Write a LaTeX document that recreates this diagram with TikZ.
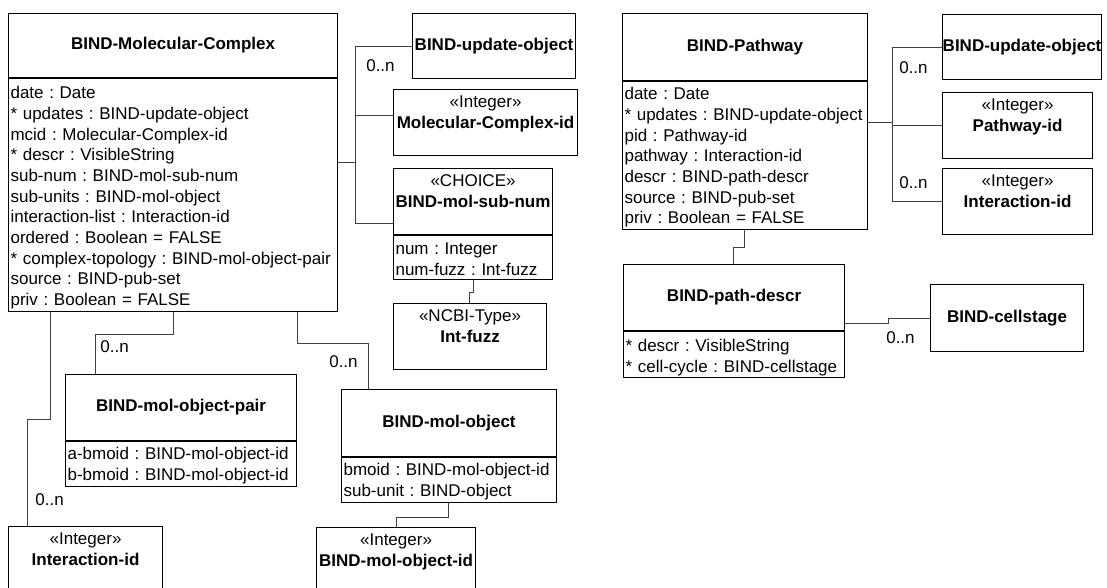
\documentclass[tikz,border=0pt]{standalone}
\usepackage{fontspec}
\setmainfont{Liberation Sans}
\usepackage{xcolor}
\usepackage{tikz}
\usetikzlibrary{positioning}

\newcommand{\umlfont}{\fontsize{17}{20.7}\selectfont\frenchspacing}

\begin{document}
\begin{tikzpicture}[x=1pt, y=-1pt, font=\umlfont,
    cls/.style={draw, line width=1.1pt, anchor=north west, inner sep=0pt, align=center},
    stereo/.style={cls, text height=38.7pt, text depth=27.3pt},
    attrs/.style={draw, line width=1.1pt, inner xsep=2pt, inner ysep=0pt, align=left},
    assoc/.style={draw=black!75, line width=0.7pt},
    mult/.style={inner sep=0pt}]
    \path[use as bounding box, clip] (0,0) rectangle (1107,588);

    % Classes, left diagram
    \node (mc) [cls, minimum width=329pt, minimum height=64pt] at (8,13) {\textbf{BIND-Molecular-Complex}}; % main class
    \node (mcattr) [attrs, below=0pt of mc, text width=325pt, text height=20pt, text depth=213pt]
        {date : Date\\{*} updates : BIND-update-object\\mcid : Molecular-Complex-id\\{*} descr : VisibleString\\sub-num : BIND-mol-sub-num\\sub-units : BIND-mol-object\\interaction-list : Interaction-id\\ordered : Boolean = FALSE\\{*} complex-topology : BIND-mol-object-pair\\source : BIND-pub-set\\priv : Boolean = FALSE}; % its fields
    \node (upd) [cls, minimum width=163pt, minimum height=65pt] at (412,13) {\textbf{BIND-update-object}};
    \node (mcid) [stereo, minimum width=184pt] at (393,89) {«Integer»\\\textbf{Molecular-Complex-id}};
    \node (subnum) [stereo, minimum width=159pt] at (393,168) {«CHOICE»\\\textbf{BIND-mol-sub-num}};
    \node (subnumattr) [attrs, below=0pt of subnum, text width=155pt, text height=19pt, text depth=25pt]
        {num : Integer\\num-fuzz : Int-fuzz};
    \node (fuzz) [stereo, minimum width=153pt] at (393,303) {«NCBI-Type»\\\textbf{Int-fuzz}};
    \node (pair) [cls, minimum width=231pt, minimum height=66pt] at (65,374) {\textbf{BIND-mol-object-pair}};
    \node (pairattr) [attrs, below=0pt of pair, text width=227pt, text height=18pt, text depth=27pt]
        {a-bmoid : BIND-mol-object-id\\b-bmoid : BIND-mol-object-id};
    \node (mobj) [cls, minimum width=215pt, minimum height=67pt] at (341,389) {\textbf{BIND-mol-object}};
    \node (mobjattr) [attrs, below=0pt of mobj, text width=211pt, text height=18pt, text depth=27pt]
        {bmoid : BIND-mol-object-id\\sub-unit : BIND-object};
    \node (moid) [stereo, minimum width=159pt] at (316,527) {«Integer»\\\textbf{BIND-mol-object-id}}; % cut by the page edge
    \node (intl) [stereo, minimum width=154pt] at (8,526) {«Integer»\\\textbf{Interaction-id}}; % cut by the page edge

    % Classes, right diagram
    \node (pw) [cls, minimum width=245pt, minimum height=67pt] at (622,13) {\textbf{BIND-Pathway}};
    \node (pwattr) [attrs, below=0pt of pw, text width=241pt, text height=18pt, text depth=130pt]
        {date : Date\\{*} updates : BIND-update-object\\pid : Pathway-id\\pathway : Interaction-id\\descr : BIND-path-descr\\source : BIND-pub-set\\priv : Boolean = FALSE};
    \node (updr) [cls, minimum width=159pt, minimum height=65pt] at (942,14) {\textbf{BIND-update-object}};
    \node (pwid) [stereo, minimum width=150pt] at (942,92) {«Integer»\\\textbf{Pathway-id}};
    \node (intr) [stereo, minimum width=150pt] at (942,168) {«Integer»\\\textbf{Interaction-id}};
    \node (pd) [cls, minimum width=221pt, minimum height=66pt] at (623,264) {\textbf{BIND-path-descr}};
    \node (pdattr) [attrs, below=0pt of pd, text width=217pt, text height=20pt, text depth=26pt]
        {* descr : VisibleString\\{*} cell-cycle : BIND-cellstage};
    \node (cs) [cls, minimum width=153pt, minimum height=67pt] at (930,284) {\textbf{BIND-cellstage}};

    % Associations
    \coordinate (mcbus) at (355,162);
    \draw[assoc] (mcattr.east |- mcbus) -- (mcbus);
    \draw[assoc] (upd.west) node[mult, below left=13pt and 17pt] {0..n} -| (mcbus);
    \draw[assoc] ([yshift=7pt]mcid.west) -| (mcbus);
    \draw[assoc] (mcbus) |- ([yshift=12pt]subnum.south west);
    \draw[assoc] ([xshift=80pt]subnumattr.south west) -- ++(0,12) -| ([xshift=76pt]fuzz.north west);
    \draw[assoc] ([xshift=42pt]mcattr.south west) -- ++(0,107) -| ([xshift=19pt]intl.north west)
        node[mult, above right=20pt and 8pt] {0..n};
    \draw[assoc] ([xshift=165pt]mcattr.south west) -- ++(0,22) -| ([xshift=30pt]pair.north west)
        node[mult, above right=21pt and 5pt] {0..n};
    \draw[assoc] ([xshift=289pt]mcattr.south west) -- ++(0,31) -| ([xshift=27pt]mobj.north west)
        node[mult, above left=21pt and 10pt] {0..n};
    \draw[assoc] ([xshift=107pt]mobjattr.south west) -- ++(0,14) -| ([xshift=80pt]moid.north west);

    \coordinate (pwbus) at (892,122);
    \draw[assoc] (pwattr.east |- pwbus) -- (pwbus);
    \draw[assoc] (updr.west) node[mult, below left=14.5pt and 14pt] {0..n} -| (pwbus);
    \draw[assoc] (pwid.west) -| (pwbus);
    \draw[assoc] (pwbus) |- (intr.west) node[mult, above left=12.5pt and 14pt] {0..n};
    \draw[assoc] ([xshift=122pt]pwattr.south west) -- ++(0,17) -| ([xshift=110pt]pd.north west);
    \draw[assoc] ([yshift=8pt]pd.south east) -- ++(43,0) |- (cs.west)
        node[mult, below left=13.5pt and 15pt] {0..n};
\end{tikzpicture}
\end{document}
